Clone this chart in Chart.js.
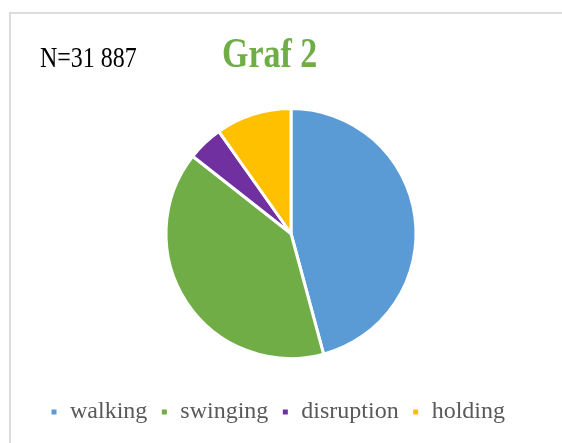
<!DOCTYPE html>
<html>
<head>
<meta charset="utf-8">
<script src="https://cdn.jsdelivr.net/npm/chart.js@4/dist/chart.umd.min.js"></script>
<style>
    html, body {
        margin: 0;
        padding: 0;
        background: #fff;
        overflow: hidden;
    }
    .frame {
        position: absolute;
        left: 9px;
        top: 12px;
        width: 600px;
        height: 500px;
        border: 2px solid #dcdcdc;
    }
    .chart-box {
        position: absolute;
        left: 0;
        top: 0;
        width: 562px;
        height: 443px;
    }
    .label {
        position: absolute;
        font-family: 'Liberation Serif', 'Times New Roman', serif;
        white-space: nowrap;
    }
    .label--n {
        left: 40px;
        top: 47px;
        font-size: 24px;
        line-height: 24px;
        color: #000;
        transform-origin: 0 20px;
        transform: scaleY(1.2);
    }
    .label--title {
        left: 222px;
        top: 39px;
        font-size: 34px;
        line-height: 34px;
        font-weight: bold;
        color: #70ad47;
        transform-origin: 0 28px;
        transform: scaleY(1.22);
    }
</style>
</head>
<body>
<div class="frame"></div>
<div class="chart-box"><canvas id="pieChart" width="562" height="443"></canvas></div>
<div class="label label--n">N=31 887</div>
<div class="label label--title">Graf 2</div>

<script>
const categories = ['walking', 'swinging', 'disruption', 'holding'];
const shares = [45.8, 39.8, 4.6, 9.8];
const sliceColors = ['#5b9bd5', '#70ad47', '#7030a0', '#ffc000'];

Chart.defaults.font.family = 'Liberation Serif';

document.addEventListener('DOMContentLoaded', () => {
    const canvas = document.getElementById('pieChart');

    const data = {
        labels: categories,
        datasets: [
            {
                label: 'N=31 887',
                data: shares,
                backgroundColor: sliceColors,
                borderColor: '#fff',
                borderWidth: 3,
            },
        ],
    };

    const config = {
        type: 'pie',
        data: data,
        options: {
            responsive: false,
            animation: false,
            radius: 125,
            layout: {
                padding: {
                    top: 80,
                    bottom: 9,
                    left: 37,
                    right: 17,
                },
            },
            plugins: {
                title: {
                    display: false,
                },
                tooltip: {
                    enabled: false,
                },
                legend: {
                    position: 'bottom',
                    align: 'start',
                    labels: {
                        boxWidth: 8,
                        boxHeight: 8,
                        padding: 13,
                        color: '#595959',
                        font: {
                            family: 'Liberation Serif',
                            size: 24,
                        },
                    },
                },
            },
        },
    };

    new Chart(canvas, config);
});
</script>
</body>
</html>
